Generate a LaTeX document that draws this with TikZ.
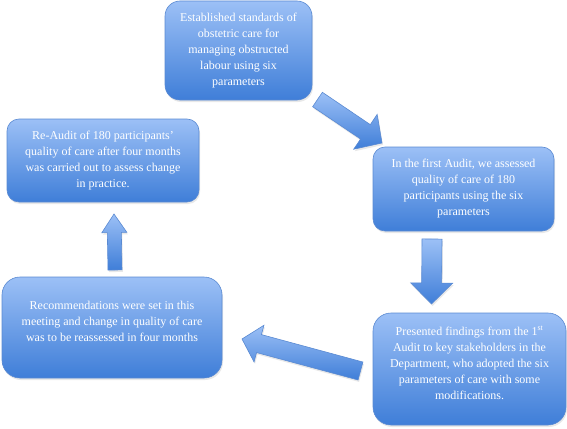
\documentclass[tikz,border=0pt]{standalone}
\usepackage{fontspec}
\setmainfont{Liberation Serif}
\usetikzlibrary{calc,shadows}
\definecolor{boxtop}{HTML}{9CC0F6}
\definecolor{boxbot}{HTML}{3F7ED8}
\definecolor{boxline}{HTML}{5A8AD2}
\tikzset{
  flowbox/.style={rectangle, rounded corners=14pt, draw=boxline, line width=0.6pt,
    top color=boxtop, bottom color=boxbot,
    drop shadow={opacity=0.18, shadow xshift=1pt, shadow yshift=-2pt}},
  boxtext/.style={align=center, text=white, font=\fontsize{12}{16}\selectfont, inner sep=0pt},
  blockarrow/.style={draw=boxline, line width=0.6pt, top color=boxtop, bottom color=boxbot,
    drop shadow={opacity=0.18, shadow xshift=1pt, shadow yshift=-2pt}}
}
% #1 tail, #2 tip, #3 shaft half width, #4 head half width, #5 head length
\newcommand{\mkblockarrow}[5]{%
  \coordinate (hh) at ($(#2)!#5!(#1)$);
  \path[blockarrow] ($(#1)!#3!90:(#2)$) -- ($(hh)!#3!90:(#2)$) -- ($(hh)!#4!90:(#2)$) -- (#2)
    -- ($(hh)!#4!-90:(#2)$) -- ($(hh)!#3!-90:(#2)$) -- ($(#1)!#3!-90:(#2)$) -- cycle;
}
\begin{document}
\begin{tikzpicture}[x=1pt,y=-1pt]
\useasboundingbox (0,0) rectangle (567,428);

\node[flowbox, rounded corners=15pt, minimum width=147pt, minimum height=99pt] (b1) at (238.5,50.5) {};
\node[boxtext] (t1) at (b1.center) {Established standards of\\obstetric care for\\managing obstructed\\labour using six\\parameters};

\node[flowbox, rounded corners=12pt, minimum width=181pt, minimum height=84pt] (b2) at (463.5,189) {};
\node[boxtext] (t2) at (b2.center) {In the first Audit, we assessed\\quality of care of 180\\participants using the six\\parameters};

\node[flowbox, rounded corners=18pt, minimum width=193pt, minimum height=112pt] (b3) at (469.5,369) {};
\node[boxtext] (t3) at ($(b3.center)+(0,-6)$) {Presented findings from the 1\textsuperscript{st}\\Audit to key stakeholders in the\\Department, who adopted the six\\parameters of care with some\\modifications.};

\node[flowbox, rounded corners=12pt, minimum width=192pt, minimum height=83pt] (b4) at (103,160.5) {};
\node[boxtext] (t4) at (b4.center) {Re-Audit of 180 participants'\\quality of care after four months\\was carried out to assess change\\in practice.};

\node[flowbox, rounded corners=18pt, minimum width=220pt, minimum height=101pt] (b5) at (112,327.5) {};
\node[boxtext] (t5) at ($(b5.center)+(0,-6.5)$) {Recommendations were set in this\\meeting and change in quality of care\\was to be reassessed in four months};

% arrows
\coordinate (a1s) at (317.5,99.5);
\coordinate (a1e) at (382,143);
\mkblockarrow{a1s}{a1e}{8.7pt}{21pt}{20pt}

\coordinate (a2s) at (432,239);
\coordinate (a2e) at (431.5,304);
\mkblockarrow{a2s}{a2e}{10pt}{21pt}{21pt}

\coordinate (a3s) at (360.5,371);
\coordinate (a3e) at (242,339);
\mkblockarrow{a3s}{a3e}{9.3pt}{19pt}{17.6pt}

\coordinate (a4s) at (115,270);
\coordinate (a4e) at (114,214);
\mkblockarrow{a4s}{a4e}{7pt}{12.5pt}{18.5pt}
\end{tikzpicture}
\end{document}
